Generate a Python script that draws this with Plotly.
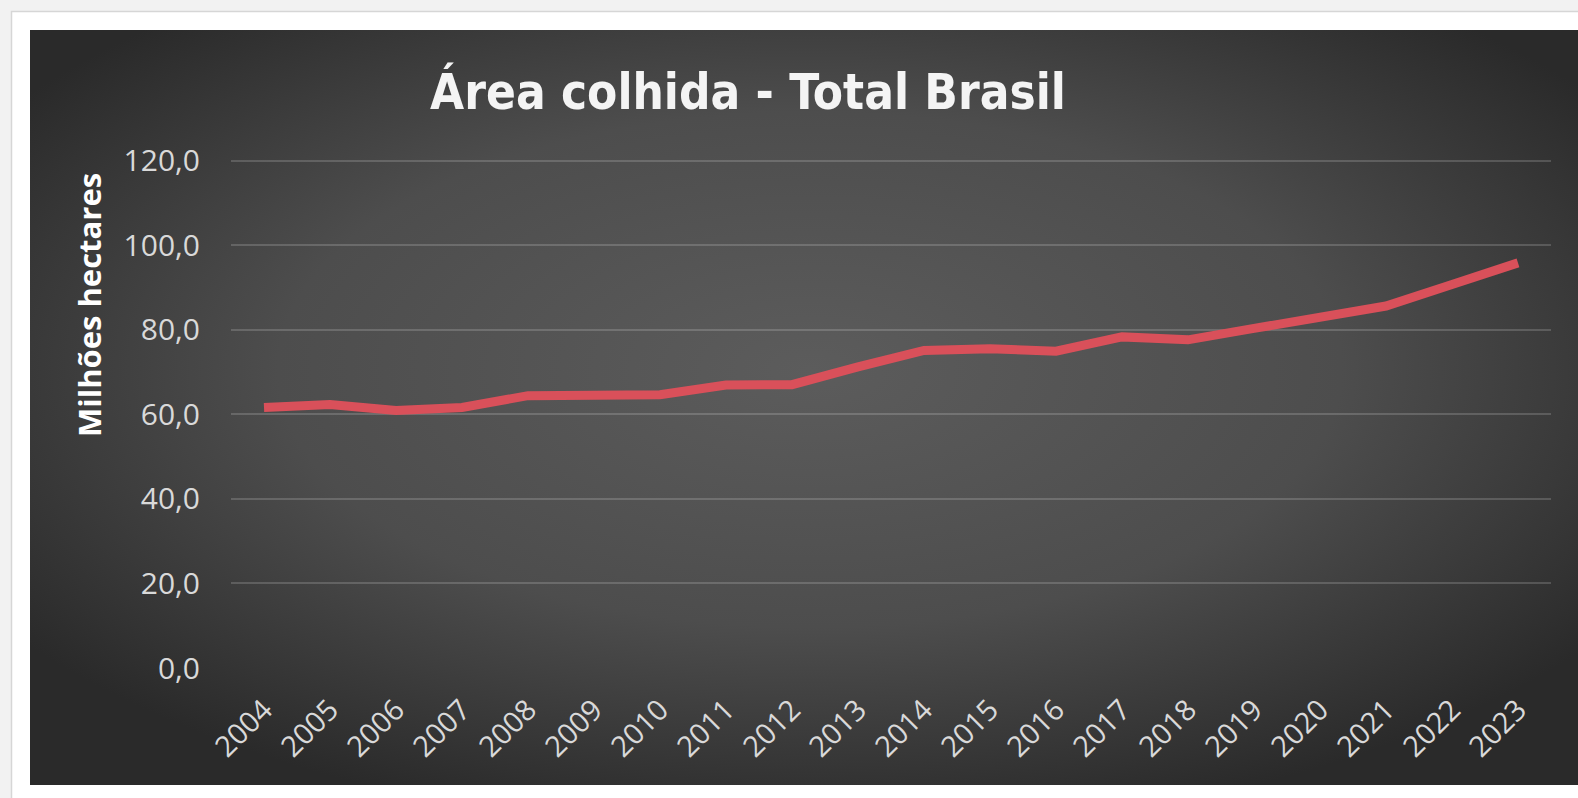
import base64
import plotly.graph_objects as go

years = ["2004", "2005", "2006", "2007", "2008", "2009", "2010", "2011", "2012", "2013",
         "2014", "2015", "2016", "2017", "2018", "2019", "2020", "2021", "2022", "2023"]
area_mha = [61.6, 62.3, 60.9, 61.6, 64.4, 64.4, 64.6, 66.9, 67.0, 71.2,
            75.1, 75.5, 74.9, 78.3, 77.6, 80.3, 82.9, 85.6, 90.7, 95.8]
y_ticks = [0, 20, 40, 60, 80, 100, 120]

W, H = 1578, 798
PX_PER_UNIT = (668 - 161) / 120
Y_TOP = 120.6
L, R, B = 231, 27, 130
T = int(round(668 - Y_TOP * PX_PER_UNIT))
PW, PH = W - L - R, H - T - B

svg = f'''<svg xmlns="http://www.w3.org/2000/svg" width="{W}" height="{H}" viewBox="0 0 {W} {H}" preserveAspectRatio="none">
<defs>
<radialGradient id="g" cx="0.5" cy="0.45" r="0.62">
<stop offset="0" stop-color="#5c5c5c"/>
<stop offset="0.55" stop-color="#4d4d4d"/>
<stop offset="1" stop-color="#2a2a2a"/>
</radialGradient>
</defs>
<rect x="0" y="0" width="{W}" height="{H}" fill="#f2f2f2"/>
<rect x="11.5" y="11.5" width="1620" height="820" fill="#ffffff" stroke="#d6d6d6" stroke-width="1.5"/>
<rect x="30" y="30" width="1560" height="755" fill="url(#g)"/>
</svg>'''
src = "data:image/svg+xml;base64," + base64.b64encode(svg.encode()).decode()

fig = go.Figure()
fig.add_trace(go.Scatter(
    x=years, y=area_mha, mode="lines",
    line=dict(color="#d9505a", width=9),
    hoverinfo="x+y", showlegend=False,
))

fig.update_layout(
    width=W, height=H,
    margin=dict(l=L, r=R, t=T, b=B),
    paper_bgcolor="#f2f2f2",
    plot_bgcolor="rgba(0,0,0,0)",
    separators=", ",
    images=[dict(
        source=src, xref="paper", yref="paper",
        x=-L / PW, y=1 + T / PH, sizex=W / PW, sizey=H / PH,
        xanchor="left", yanchor="top", sizing="stretch", layer="below",
    )],
    title=dict(
        text="Área colhida - Total Brasil",
        x=748 / W, xref="container", xanchor="center",
        y=1 - 92 / H, yref="container", yanchor="middle",
        font=dict(family="DejaVu Sans Condensed, Liberation Sans Narrow, Roboto Condensed, Roboto, sans-serif",
                  size=49, color="#f4f4f4", weight="bold"),
    ),
    xaxis=dict(
        type="category", range=[-0.5, 19.5],
        showgrid=False, showline=False, zeroline=False, ticks="",
        tickangle=-45, ticklabelstandoff=18,
        tickfont=dict(family="Open Sans", size=29, color="#d9d9d9"),
    ),
    yaxis=dict(
        range=[0, Y_TOP], tickvals=y_ticks, tickformat=".1f",
        showgrid=True, gridcolor="rgba(255,255,255,0.17)", gridwidth=1.5,
        showline=False, zeroline=False, ticks="", ticklabelstandoff=30,
        tickfont=dict(family="Open Sans", size=30, color="#d9d9d9"),
    ),
    annotations=[dict(
        text="Milhões hectares", textangle=-90,
        xref="paper", yref="paper",
        x=(89 - L) / PW, y=(668 - 305) / PH,
        xanchor="center", yanchor="middle", showarrow=False,
        font=dict(family="Open Sans", size=31, color="#ffffff", weight="bold"),
    )],
)

fig.write_html("out.html", config={"displayModeBar": False},
               post_script="document.body.style.margin='0';document.body.style.overflow='hidden';")
